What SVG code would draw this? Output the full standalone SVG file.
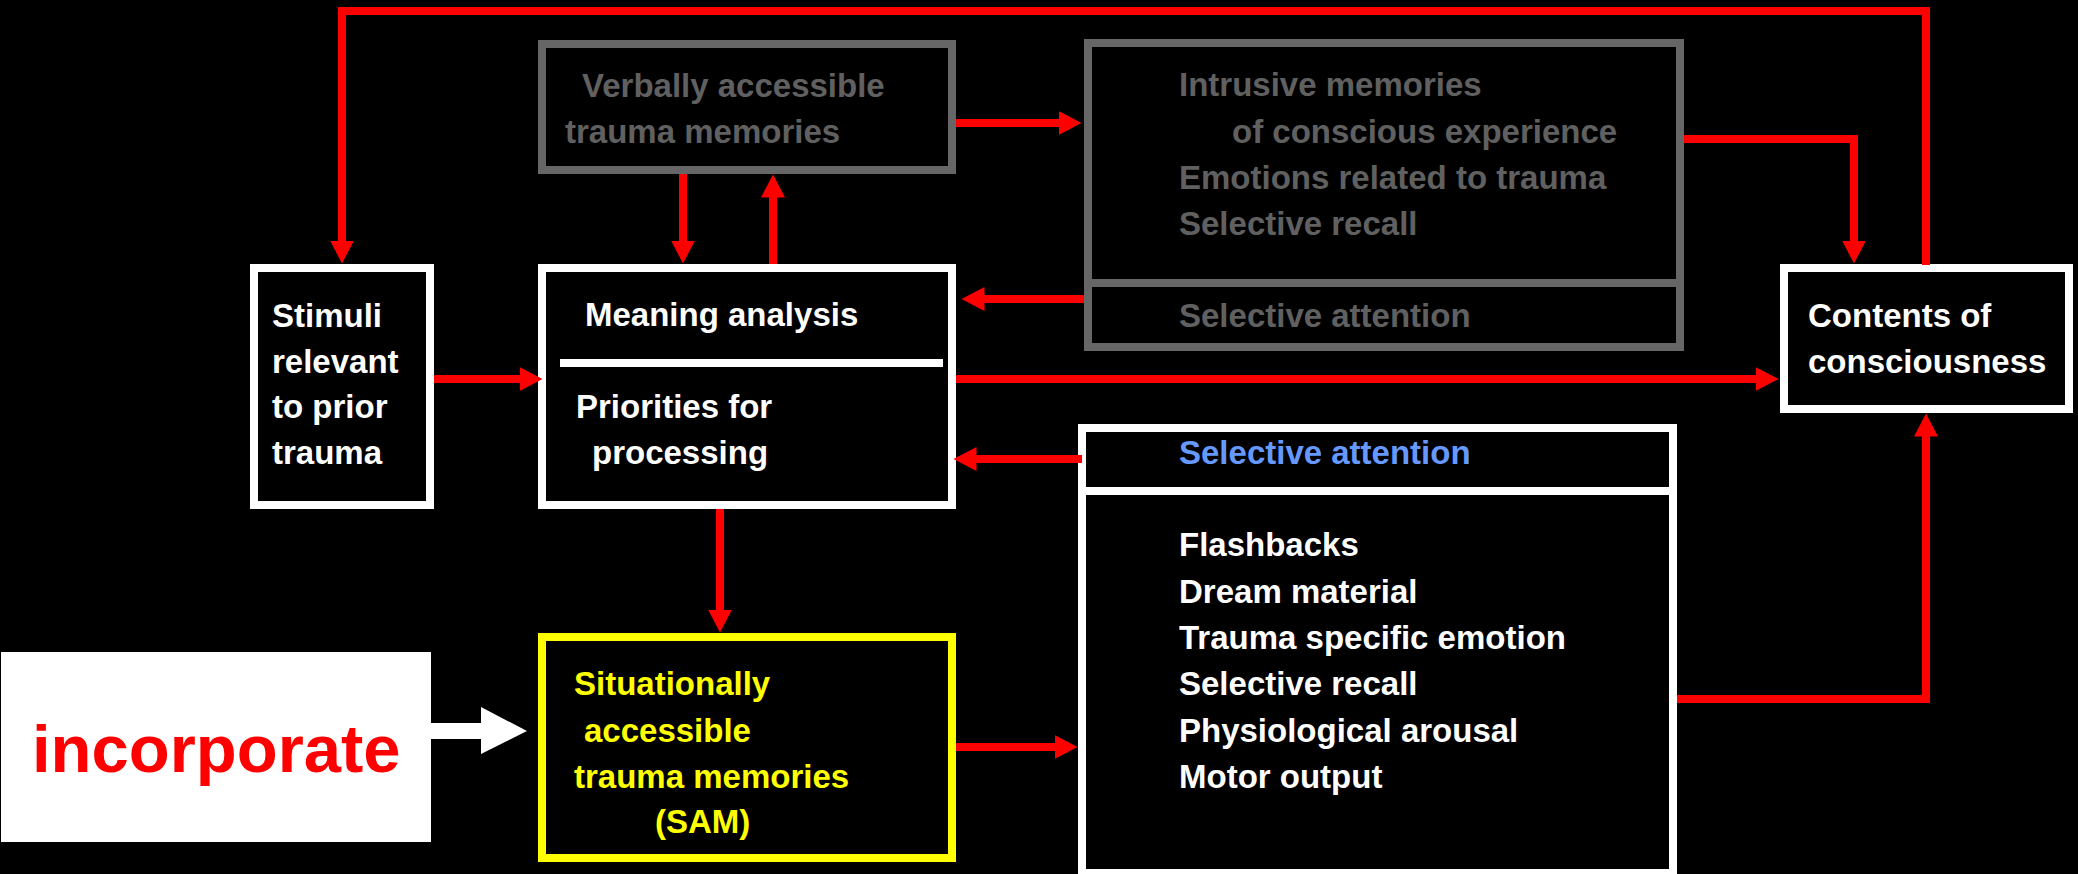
<svg xmlns="http://www.w3.org/2000/svg" width="2078" height="874" viewBox="0 0 2078 874">
<defs>
<style>
.t{font-family:"Liberation Sans",Arial,sans-serif;font-weight:bold;font-size:33px}
.w{fill:#ffffff}
.g{fill:#606060}
.y{fill:#ffff00}
.b{fill:#6699ff}
.bx{fill:#000000;stroke-width:8}
.c{fill:none;stroke:#ff0000;stroke-width:8;marker-end:url(#ah)}
</style>
<marker id="ah" markerUnits="userSpaceOnUse" markerWidth="24" markerHeight="24" viewBox="0 0 24 24" refX="0.5" refY="12" orient="auto">
<path d="M0,0 L23,12 L0,24 z" fill="#ff0000"/>
</marker>
</defs>
<rect x="0" y="0" width="2078" height="874" fill="#000000"/>

<g id="stimuli">
<rect class="bx" x="254" y="268" width="176" height="237" stroke="#ffffff"/>
<text class="t w" x="272" y="327">Stimuli</text>
<text class="t w" x="272" y="373">relevant</text>
<text class="t w" x="272" y="418">to prior</text>
<text class="t w" x="272" y="464">trauma</text>
</g>

<g id="meaning">
<rect class="bx" x="542" y="268" width="410" height="237" stroke="#ffffff"/>
<line x1="560" y1="363" x2="943" y2="363" stroke="#ffffff" stroke-width="8"/>
<text class="t w" x="585" y="326">Meaning analysis</text>
<text class="t w" x="576" y="418">Priorities for</text>
<text class="t w" x="592" y="464">processing</text>
</g>

<g id="verbally">
<rect class="bx" x="542" y="44" width="410" height="126" stroke="#666666"/>
<text class="t g" x="582" y="97">Verbally accessible</text>
<text class="t g" x="565" y="143">trauma memories</text>
</g>

<g id="intrusive">
<rect class="bx" x="1088" y="43" width="592" height="304" stroke="#666666"/>
<line x1="1088" y1="283" x2="1680" y2="283" stroke="#666666" stroke-width="8"/>
<text class="t g" x="1179" y="96">Intrusive memories</text>
<text class="t g" x="1232" y="143">of conscious experience</text>
<text class="t g" x="1179" y="189">Emotions related to trauma</text>
<text class="t g" x="1179" y="235">Selective recall</text>
<text class="t g" x="1179" y="327">Selective attention</text>
</g>

<g id="contents">
<rect class="bx" x="1784" y="268" width="285" height="141" stroke="#ffffff"/>
<text class="t w" x="1808" y="327">Contents of</text>
<text class="t w" x="1808" y="373">consciousness</text>
</g>

<g id="sa">
<rect class="bx" x="1082" y="428" width="591" height="445" stroke="#ffffff"/>
<line x1="1082" y1="491" x2="1673" y2="491" stroke="#ffffff" stroke-width="8"/>
<text class="t b" x="1179" y="464">Selective attention</text>
<text class="t w" x="1179" y="556">Flashbacks</text>
<text class="t w" x="1179" y="603">Dream material</text>
<text class="t w" x="1179" y="649">Trauma specific emotion</text>
<text class="t w" x="1179" y="695">Selective recall</text>
<text class="t w" x="1179" y="742">Physiological arousal</text>
<text class="t w" x="1179" y="788">Motor output</text>
</g>

<g id="sam">
<rect class="bx" x="542" y="637" width="410" height="221" stroke="#ffff00"/>
<text class="t y" x="574" y="695">Situationally</text>
<text class="t y" x="584" y="742">accessible</text>
<text class="t y" x="574" y="788">trauma memories</text>
<text class="t y" x="655" y="833">(SAM)</text>
</g>

<g id="incorporate">
<rect x="1" y="652" width="430" height="190" fill="#ffffff"/>
<text x="32" y="772" style="font-family:'Liberation Sans',Arial,sans-serif;font-weight:bold;font-size:67px" fill="#ff0000">incorporate</text>
</g>

<g id="connectors">
<path class="c" d="M1926,265 L1926,11 L342,11 L342,241"/>
<path class="c" d="M683,174 L683,241"/>
<path class="c" d="M773,264 L773,197"/>
<path class="c" d="M956,123 L1059,123"/>
<path class="c" d="M1684,139 L1854,139 L1854,241"/>
<path class="c" d="M1084,299 L984,299"/>
<path class="c" d="M956,379 L1756,379"/>
<path class="c" d="M434,379 L520,379"/>
<path class="c" d="M1082,459 L976,459"/>
<path class="c" d="M720,509 L720,610"/>
<path class="c" d="M956,747 L1055,747"/>
<path class="c" d="M1677,699 L1926,699 L1926,436"/>
<polygon points="431,723 481,723 481,707 527,731 481,754 481,739 431,739" fill="#ffffff"/>
</g>
</svg>
